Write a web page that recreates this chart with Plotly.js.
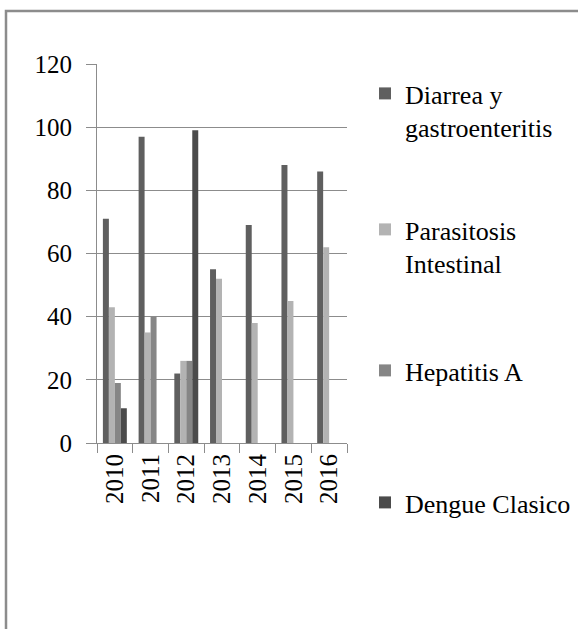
<!DOCTYPE html>
<html>
<head>
<meta charset="utf-8">
<script src="https://cdn.plot.ly/plotly-3.0.1.min.js"></script>
<style>html,body{margin:0;padding:0;background:#fff;}#chart{width:578px;height:629px;}</style>
</head>
<body>
<div id="chart"></div>
<script>
const years = ['2010','2011','2012','2013','2014','2015','2016'];
const seriesNames = ['Diarrea y<br>gastroenteritis','Parasitosis<br>Intestinal','Hepatitis A','Dengue Clasico'];
const diarrea = [71, 97, 22, 55, 69, 88, 86];
const parasitosis = [43, 35, 26, 52, 38, 45, 62];
const hepatitis = [19, 40, 26, null, null, null, null];
const dengue = [11, null, 99, null, null, null, null];
const colors = ['#5f5f5f', '#b3b3b3', '#868686', '#4b4b4b'];
const yTicks = [0, 20, 40, 60, 80, 100, 120];

const FONT = 'Liberation Serif';
const FS = 25;
const values = [diarrea, parasitosis, hepatitis, dengue];
const legendIds = ['legend', 'legend2', 'legend3', 'legend4'];
const legendTopPx = [70, 206, 347, 479];

const data = values.map((v, i) => ({
  type: 'bar', x: years, y: v, name: seriesNames[i],
  marker: {color: colors[i], line: {width: 0}},
  legend: legendIds[i], hoverinfo: 'skip'
}));

const layout = {
  width: 578, height: 629,
  margin: {l: 97, r: 231, t: 64, b: 186},
  paper_bgcolor: '#ffffff', plot_bgcolor: '#ffffff',
  font: {family: FONT, size: FS, color: '#000'},
  barmode: 'group', bargap: 0.33, bargroupgap: 0,
  xaxis: {
    type: 'category', showgrid: false, showline: true, linecolor: '#8c8c8c', linewidth: 1,
    ticks: 'outside', ticklen: 9, tickcolor: '#8c8c8c', tickson: 'boundaries',
    tickangle: -90, tickfont: {family: FONT, size: FS, color: '#000'}, zeroline: false,
    fixedrange: true, automargin: false
  },
  yaxis: {
    range: [0, 120], tickvals: yTicks, showgrid: true, gridcolor: '#8c8c8c', gridwidth: 1,
    showline: true, linecolor: '#8c8c8c', linewidth: 1, ticks: 'outside', ticklen: 10,
    tickcolor: '#8c8c8c', zeroline: false, tickfont: {family: FONT, size: FS, color: '#000'},
    ticklabelstandoff: 9, fixedrange: true, automargin: false
  },
  shapes: [{type: 'rect', xref: 'paper', yref: 'paper', x0: -0.364, x1: 3, y0: -3, y1: 1.14,
    line: {color: '#8c8c8c', width: 2.5}, fillcolor: 'rgba(0,0,0,0)', layer: 'below'}],
  showlegend: true
};
legendIds.forEach((id, i) => {
  layout[id] = {xref: 'container', yref: 'container', x: 365 / 578, y: (629 - legendTopPx[i]) / 629,
    xanchor: 'left', yanchor: 'top', valign: 'top',
    bgcolor: 'rgba(0,0,0,0)', borderwidth: 0, font: {family: FONT, size: 26, color: '#000'},
    itemclick: false, itemdoubleclick: false};
});

Plotly.newPlot('chart', data, layout, {staticPlot: true, displayModeBar: false});
</script>
</body>
</html>
